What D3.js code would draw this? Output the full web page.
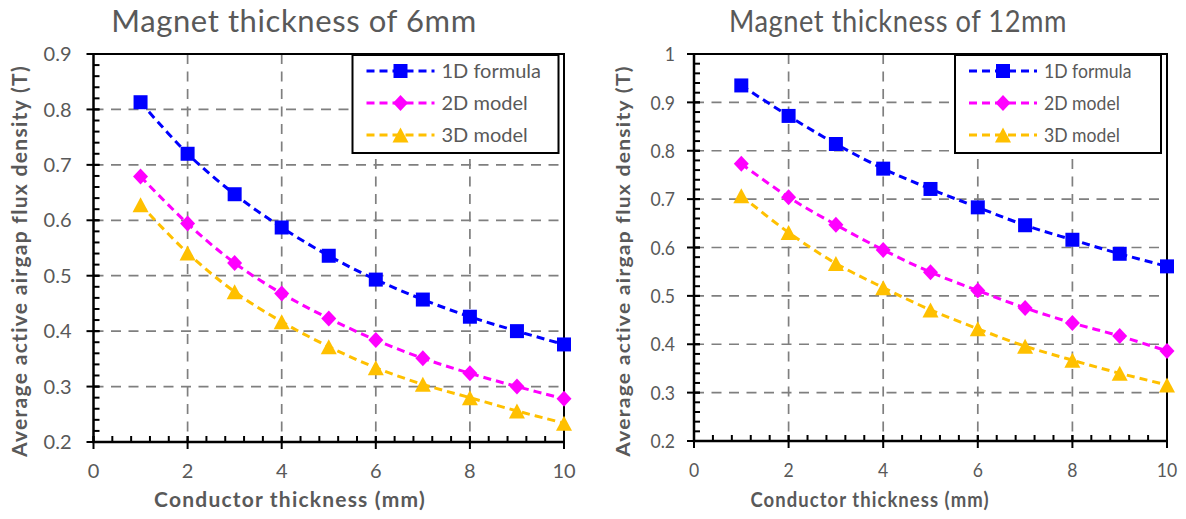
<!DOCTYPE html>
<html>
<head>
<meta charset="utf-8">
<script src="https://cdn.jsdelivr.net/npm/d3@7"></script>
<style>
  html, body { margin: 0; padding: 0; background: #fff; }
  svg { display: block; font-family: Lato, "Open Sans", sans-serif; }
</style>
</head>
<body>
<svg id="chart" width="1186" height="519"></svg>
<script>
// Conductor thickness (mm) on the x axis
const conductorThickness = [1, 2, 3, 4, 5, 6, 7, 8, 9, 10];
const seriesNames = ["1D formula", "2D model", "3D model"];

// Average active airgap flux density (T), 6 mm magnet
const magnet6_1D = [0.813, 0.720, 0.647, 0.587, 0.536, 0.493, 0.457, 0.426, 0.400, 0.376];
const magnet6_2D = [0.679, 0.594, 0.523, 0.468, 0.423, 0.384, 0.351, 0.324, 0.300, 0.278];
const magnet6_3D = [0.628, 0.541, 0.471, 0.417, 0.372, 0.334, 0.304, 0.280, 0.256, 0.234];

// Average active airgap flux density (T), 12 mm magnet
const magnet12_1D = [0.935, 0.872, 0.814, 0.763, 0.721, 0.683, 0.646, 0.616, 0.587, 0.561];
const magnet12_2D = [0.773, 0.704, 0.647, 0.595, 0.549, 0.511, 0.475, 0.444, 0.417, 0.386];
const magnet12_3D = [0.707, 0.631, 0.567, 0.517, 0.471, 0.432, 0.396, 0.367, 0.340, 0.316];

// Axis ticks
const xTicks = [0, 2, 4, 6, 8, 10];
const xTickLabels = ["0", "2", "4", "6", "8", "10"];
const yTicks6 = [0.2, 0.3, 0.4, 0.5, 0.6, 0.7, 0.8, 0.9];
const yTickLabels6 = ["0.2", "0.3", "0.4", "0.5", "0.6", "0.7", "0.8", "0.9"];
const yTicks12 = [0.2, 0.3, 0.4, 0.5, 0.6, 0.7, 0.8, 0.9, 1];
const yTickLabels12 = ["0.2", "0.3", "0.4", "0.5", "0.6", "0.7", "0.8", "0.9", "1"];

const titles = ["Magnet thickness of 6mm", "Magnet thickness of 12mm"];
const xAxisTitle = "Conductor thickness (mm)";
const yAxisTitle = "Average active airgap flux density (T)";

// Visual styling
const seriesColors = ["#0000FF", "#FF00FF", "#FFC000"];
const seriesMarkers = ["square", "diamond", "triangle"];
const textGray = "#595959";
const gridGray = "#7f7f7f";

// Panel geometry
const panels = [
  { title: titles[0], series: [magnet6_1D, magnet6_2D, magnet6_3D],
    yTicks: yTicks6, yLabels: yTickLabels6,
    left: 93.5, right: 564, top: 54, bottom: 442, sx: 1,
    titleX: 294, yTitleX: 20, xTitleX: 290, legendX: 352.5, tickGap: 22 },
  { title: titles[1], series: [magnet12_1D, magnet12_2D, magnet12_3D],
    yTicks: yTicks12, yLabels: yTickLabels12,
    left: 694, right: 1167, top: 54, bottom: 441, sx: 0.88,
    titleX: 898, yTitleX: 624, xTitleX: 870, legendX: 955, tickGap: 19 }
];

const svg = d3.select("#chart");

// Marker shapes, centred on their bounding box
function markerPath(kind) {
  const p = d3.path();
  if (kind === "square") {
    const h = 7; p.rect(-h, -h, 2 * h, 2 * h);
  } else if (kind === "diamond") {
    const w = 7.5, h = 8;
    p.moveTo(0, -h); p.lineTo(w, 0); p.lineTo(0, h); p.lineTo(-w, 0); p.closePath();
  } else {
    const w = 8, h = 7.5;
    p.moveTo(0, -h); p.lineTo(w, h); p.lineTo(-w, h); p.closePath();
  }
  return p.toString();
}

function addText(g, x, y, str, sx, opts) {
  const t = g.append("text")
    .attr("transform", `translate(${x},${y}) scale(${sx},1)` + (opts.rotate ? ` rotate(${opts.rotate})` : ""))
    .attr("text-anchor", opts.anchor || "middle")
    .attr("fill", textGray)
    .attr("font-size", opts.size)
    .attr("font-weight", opts.weight || "normal")
    .text(str);
  if (opts.dy) t.attr("dy", opts.dy);
  if (opts.ls) t.attr("letter-spacing", opts.ls);
  return t;
}

panels.forEach(pn => {
  const g = svg.append("g");
  const yDom = [pn.yTicks[0], pn.yTicks[pn.yTicks.length - 1]];
  const x = d3.scaleLinear().domain([xTicks[0], xTicks[xTicks.length - 1]]).range([pn.left, pn.right]);
  const y = d3.scaleLinear().domain(yDom).range([pn.bottom, pn.top]);

  // dashed grid
  g.append("g").selectAll("line")
    .data(pn.yTicks.slice(1, -1)).join("line")
    .attr("x1", pn.left).attr("x2", pn.right)
    .attr("y1", d => y(d)).attr("y2", d => y(d))
    .attr("stroke", gridGray).attr("stroke-width", 1.7).attr("stroke-dasharray", "10,7.5");
  g.append("g").selectAll("line")
    .data(xTicks.slice(1, -1)).join("line")
    .attr("x1", d => x(d)).attr("x2", d => x(d))
    .attr("y1", pn.top).attr("y2", pn.bottom)
    .attr("stroke", gridGray).attr("stroke-width", 1.7).attr("stroke-dasharray", "10,7.5");

  // frame
  g.append("path")
    .attr("d", `M${pn.left},${pn.top}H${pn.right}V${pn.bottom}`)
    .attr("fill", "none").attr("stroke", "#000").attr("stroke-width", 2);

  // minor ticks (inside)
  const yMinor = d3.range(0, Math.round((yDom[1] - yDom[0]) / 0.02) + 1).map(i => yDom[0] + i * 0.02);
  g.append("g").selectAll("line").data(yMinor).join("line")
    .attr("x1", pn.left).attr("x2", pn.left + 6)
    .attr("y1", d => y(d)).attr("y2", d => y(d))
    .attr("stroke", "#000").attr("stroke-width", 2);
  const xMinor = d3.range(0, 26).map(i => i * 0.4);
  g.append("g").selectAll("line").data(xMinor).join("line")
    .attr("x1", d => x(d)).attr("x2", d => x(d))
    .attr("y1", pn.bottom).attr("y2", pn.bottom - 6)
    .attr("stroke", "#000").attr("stroke-width", 2);

  // major ticks (crossing)
  g.append("g").selectAll("line").data(pn.yTicks).join("line")
    .attr("x1", pn.left - 7).attr("x2", pn.left + 6)
    .attr("y1", d => y(d)).attr("y2", d => y(d))
    .attr("stroke", "#000").attr("stroke-width", 2);
  g.append("g").selectAll("line").data(xTicks).join("line")
    .attr("x1", d => x(d)).attr("x2", d => x(d))
    .attr("y1", pn.bottom + 7).attr("y2", pn.bottom - 6)
    .attr("stroke", "#000").attr("stroke-width", 2);

  // axis lines
  g.append("path")
    .attr("d", `M${pn.left},${pn.top}V${pn.bottom}H${pn.right}`)
    .attr("fill", "none").attr("stroke", "#000").attr("stroke-width", 2.5);

  // tick labels
  pn.yTicks.forEach((v, i) =>
    addText(g, pn.left - pn.tickGap, y(v), pn.yLabels[i], pn.sx, { anchor: "end", size: 20, dy: "0.36em" }));
  xTicks.forEach((v, i) =>
    addText(g, x(v), pn.bottom + 36, xTickLabels[i], pn.sx, { size: 20 }));

  // titles
  addText(g, pn.titleX, 32, pn.title, pn.sx, { size: 31, ls: 0.6 });
  addText(g, pn.xTitleX, 507, xAxisTitle, pn.sx, { size: 21, weight: "bold", ls: 1.2 });
  addText(g, pn.yTitleX, 261, yAxisTitle, pn.sx, { size: 21, weight: "bold", rotate: -90, dy: "0.35em", ls: 1.3 });

  // series
  const line = d3.line().x((d, i) => x(conductorThickness[i])).y(d => y(d)).curve(d3.curveCatmullRom);
  pn.series.forEach((vals, k) => {
    g.append("path").datum(vals)
      .attr("d", line)
      .attr("fill", "none").attr("stroke", seriesColors[k])
      .attr("stroke-width", 3).attr("stroke-dasharray", "8,5");
  });
  pn.series.forEach((vals, k) => {
    g.append("g").selectAll("path").data(vals).join("path")
      .attr("transform", (d, i) => `translate(${x(conductorThickness[i])},${y(d)})`)
      .attr("d", markerPath(seriesMarkers[k]))
      .attr("fill", seriesColors[k]);
  });

  // legend
  const lg = g.append("g").attr("transform", `translate(${pn.legendX},55)`);
  lg.append("rect").attr("width", 206).attr("height", 98)
    .attr("fill", "#fff").attr("stroke", "#000").attr("stroke-width", 2);
  seriesNames.forEach((name, k) => {
    const ry = 16 + k * 32;
    lg.append("line").attr("x1", 14).attr("x2", 82).attr("y1", ry).attr("y2", ry)
      .attr("stroke", seriesColors[k]).attr("stroke-width", 3).attr("stroke-dasharray", "8,5");
    lg.append("path").attr("transform", `translate(48,${ry})`)
      .attr("d", markerPath(seriesMarkers[k])).attr("fill", seriesColors[k]);
    addText(lg, 89, ry, name, pn.sx, { anchor: "start", size: 20, dy: "0.36em" });
  });
});
</script>
</body>
</html>
